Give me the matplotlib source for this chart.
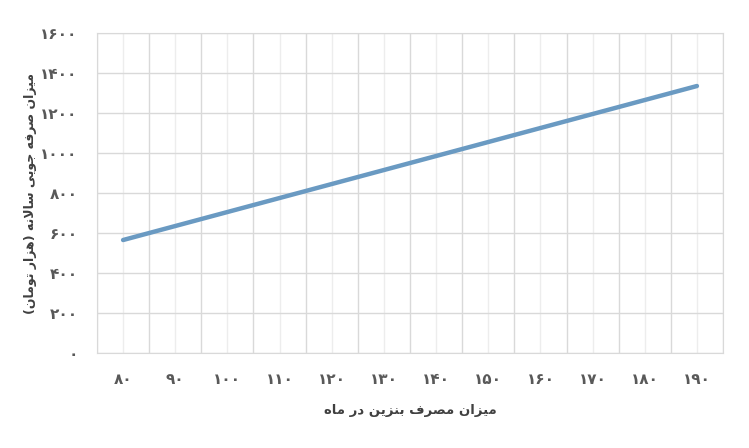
import matplotlib
matplotlib.use('Agg')
import matplotlib.pyplot as plt

# values
fuel_use = [80, 90, 100, 110, 120, 130, 140, 150, 160, 170, 180, 190]
savings = [565, 635, 705, 775, 845, 915, 985, 1055, 1125, 1195, 1265, 1335]
y_ticks = [0, 200, 400, 600, 800, 1000, 1200, 1400, 1600]

x_title = 'میزان مصرف بنزین در ماه'
y_title = 'میزان صرفه جویی سالانه (هزار تومان)'

# minimal arabic/persian shaping: (isolated, final, initial, medial)
FORMS = {
	'ا': ('\uFE8D', '\uFE8E', None, None),
	'ب': ('\uFE8F', '\uFE90', '\uFE91', '\uFE92'),
	'ت': ('\uFE95', '\uFE96', '\uFE97', '\uFE98'),
	'ج': ('\uFE9D', '\uFE9E', '\uFE9F', '\uFEA0'),
	'د': ('\uFEA9', '\uFEAA', None, None),
	'ر': ('\uFEAD', '\uFEAE', None, None),
	'ز': ('\uFEAF', '\uFEB0', None, None),
	'س': ('\uFEB1', '\uFEB2', '\uFEB3', '\uFEB4'),
	'ص': ('\uFEB9', '\uFEBA', '\uFEBB', '\uFEBC'),
	'ف': ('\uFED1', '\uFED2', '\uFED3', '\uFED4'),
	'ل': ('\uFEDD', '\uFEDE', '\uFEDF', '\uFEE0'),
	'م': ('\uFEE1', '\uFEE2', '\uFEE3', '\uFEE4'),
	'ن': ('\uFEE5', '\uFEE6', '\uFEE7', '\uFEE8'),
	'ه': ('\uFEE9', '\uFEEA', '\uFEEB', '\uFEEC'),
	'و': ('\uFEED', '\uFEEE', None, None),
	'ی': ('\uFBFC', '\uFBFD', '\uFBFE', '\uFBFF'),
}

def joins_next(c):
	return c in FORMS and FORMS[c][2] is not None

def shape(s):
	chars = list(s)
	out = []
	i = 0
	while i < len(chars):
		c = chars[i]
		prev = chars[i-1] if i > 0 else ''
		nxt = chars[i+1] if i + 1 < len(chars) else ''
		if c not in FORMS:
			out.append({'(': ')', ')': '('}.get(c, c))
			i += 1
			continue
		jp = joins_next(prev)
		if c == 'ل' and nxt == 'ا':
			out.append('\uFEFC' if jp else '\uFEFB')
			i += 2
			continue
		jn = joins_next(c) and nxt in FORMS
		iso, fin, ini, med = FORMS[c]
		if jp and jn:
			g = med
		elif jp:
			g = fin
		elif jn:
			g = ini
		else:
			g = iso
		out.append(g)
		i += 1
	return ''.join(reversed(out))

def fa_digits(n):
	return str(n).translate(str.maketrans('0123456789', '۰۱۲۳۴۵۶۷۸۹'))

plt.rcParams['font.family'] = ['DejaVu Sans']

fig = plt.figure(figsize=(7.49, 4.48), dpi=100)
ax = fig.add_axes([0.1295, 0.212, 0.8358, 0.7143])

xs = list(range(len(fuel_use)))
ax.plot(xs, savings, color='#6a9ac2', lw=3.2, solid_capstyle='round', zorder=3)

ax.set_xlim(-0.5, len(fuel_use) - 0.5)
ax.set_ylim(0, 1600)
ax.set_xticks(xs)
ax.set_xticklabels([fa_digits(v) for v in fuel_use])
ax.set_xticks([k - 0.5 for k in range(len(fuel_use) + 1)], minor=True)
ax.set_yticks(y_ticks)
ax.set_yticklabels([fa_digits(v) for v in y_ticks])

ax.grid(True, which='minor', axis='x', color='#d9d9d9', lw=1)
ax.grid(True, which='major', axis='x', color='#ededed', lw=1)
ax.grid(True, which='major', axis='y', color='#d9d9d9', lw=1)
ax.set_axisbelow(True)
for sp in ax.spines.values():
	sp.set_color('#d9d9d9')
ax.tick_params(which='both', length=0)
ax.tick_params(axis='x', pad=14)
ax.tick_params(axis='y', pad=14)
for lab in ax.get_xticklabels() + ax.get_yticklabels():
	lab.set_fontweight('bold')
	lab.set_fontsize(11)
	lab.set_color('#595959')

ax.set_xlabel(shape(x_title), fontsize=9.5, fontweight='bold', color='#404040', labelpad=12)
ax.set_ylabel(shape(y_title), fontsize=9, fontweight='bold', color='#404040', labelpad=2)

fig.savefig('out.png', dpi=100)
